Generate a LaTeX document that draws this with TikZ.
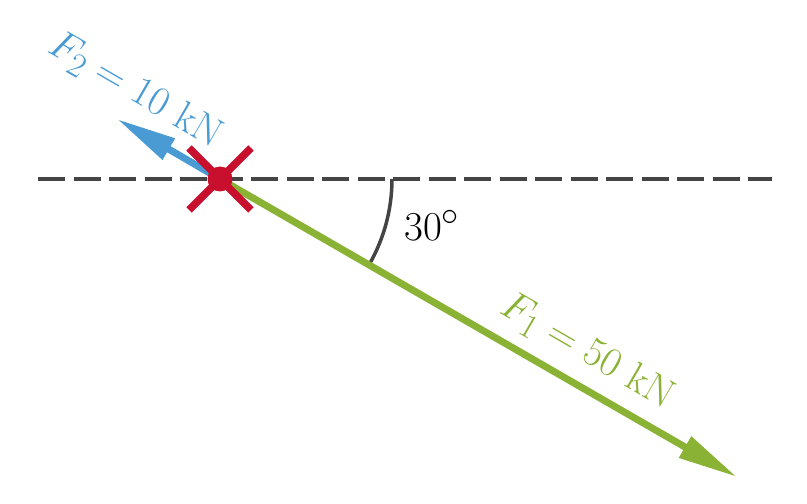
\documentclass[tikz,border=0pt]{standalone}
\usetikzlibrary{arrows.meta}
\definecolor{fblue}{RGB}{74,155,212}
\definecolor{fgreen}{RGB}{138,178,52}
\definecolor{fred}{RGB}{200,16,46}
\definecolor{fgray}{RGB}{68,68,68}
\tikzset{
  bigtext/.style={inner sep=0pt, font=\Huge, scale=1.65},
  lbl/.style={bigtext, rotate=-30},
  refline/.style={draw=fgray, line width=4pt, dash pattern=on 27pt off 8.5pt},
  force/.style={line width=7pt, -{Triangle[length=60pt,width=23pt]}},
}
\begin{document}
\begin{tikzpicture}[x=1pt,y=1pt]
\useasboundingbox (0,0) rectangle (807,504);
\coordinate (O) at (220,325);
\coordinate (dl) at (38,325);
\coordinate (dr) at (772,325);
\coordinate (t1) at (737,27);
\coordinate (t2) at (117,385);
\draw[refline] (dl) -- (dr);
\draw[fgray, line width=3.5pt] ([shift={(0:172)}]O) arc[start angle=0, end angle=-30, radius=172];
\node[bigtext] (ang) at (432,279) {$30^\circ$};
\draw[force, fgreen] (O) -- (t1);
\draw[force, fblue] (O) -- (t2);
\draw[fred, line width=7.5pt] ([shift={(-31,31)}]O) -- ([shift={(31,-31)}]O);
\draw[fred, line width=7.5pt] ([shift={(-31,-31)}]O) -- ([shift={(31,31)}]O);
\fill[fred] (O) circle[radius=12.5];
\node[lbl, text=fgreen] (l1) at (587,152) {$F_1 = 50$ kN};
\node[lbl, text=fblue] (l2) at (135,413) {$F_2 = 10$ kN};
\end{tikzpicture}
\end{document}
